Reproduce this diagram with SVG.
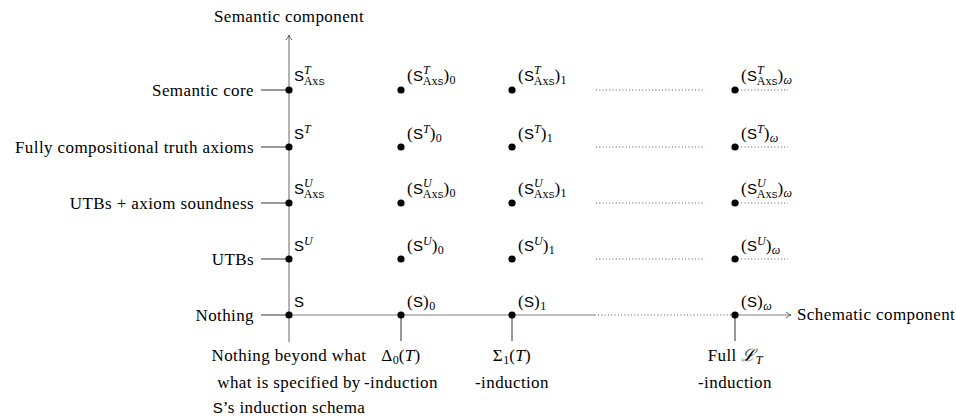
<svg xmlns="http://www.w3.org/2000/svg" width="956" height="416" viewBox="0 0 956 416">
<style>
.axis{stroke:#808080;stroke-width:1.2;fill:none}
.tick{stroke:#333;stroke-width:1;fill:none}
.dot{stroke:#555;stroke-width:1;stroke-dasharray:1 2.3;fill:none}
.lbl{font-family:"Liberation Serif",serif;font-size:17px;letter-spacing:0.4px;fill:#000}
.sf{font-family:"Liberation Sans","DejaVu Sans",sans-serif;font-size:15px;letter-spacing:0}
.it{font-style:italic}
.sm{font-size:12px;letter-spacing:0}
.ss{font-family:"Liberation Sans","DejaVu Sans",sans-serif;font-size:9px}
</style>
<defs>
<marker id="arr" markerWidth="8" markerHeight="8" refX="6" refY="4" orient="auto" markerUnits="userSpaceOnUse">
<path d="M1,1 Q4,3.5 6,4 Q4,4.5 1,7" fill="none" stroke="#555" stroke-width="0.9"/>
</marker>
</defs>
<g id="connectors">
<line class="axis" x1="289" y1="342" x2="289" y2="35" marker-end="url(#arr)"/>
<line class="axis" x1="289" y1="315" x2="596" y2="315"/>
<line class="dot" x1="598" y1="315" x2="733" y2="315"/>
<line class="axis" x1="735" y1="315" x2="791" y2="315" marker-end="url(#arr)"/>
<line class="tick" x1="261" y1="90" x2="289" y2="90"/>
<line class="tick" x1="261" y1="147" x2="289" y2="147"/>
<line class="tick" x1="261" y1="203" x2="289" y2="203"/>
<line class="tick" x1="261" y1="259" x2="289" y2="259"/>
<line class="tick" x1="261" y1="315" x2="289" y2="315"/>
<line class="tick" x1="401" y1="315" x2="401" y2="341"/>
<line class="tick" x1="512" y1="315" x2="512" y2="341"/>
<line class="tick" x1="735" y1="315" x2="735" y2="341"/>
<line class="dot" x1="596" y1="90" x2="705" y2="90"/>
<line class="dot" x1="596" y1="147" x2="705" y2="147"/>
<line class="dot" x1="596" y1="203" x2="705" y2="203"/>
<line class="dot" x1="596" y1="259" x2="705" y2="259"/>
<line class="dot" x1="738" y1="90" x2="788" y2="90"/>
<line class="dot" x1="738" y1="147" x2="788" y2="147"/>
<line class="dot" x1="738" y1="203" x2="788" y2="203"/>
<line class="dot" x1="738" y1="259" x2="788" y2="259"/>
</g>
<g id="axis-labels">
<text class="lbl" x="289" y="22" text-anchor="middle">Semantic component</text>
<text class="lbl" x="797" y="320">Schematic component</text>
<text class="lbl" x="254" y="96" text-anchor="end">Semantic core</text>
<text class="lbl" x="254" y="153" text-anchor="end">Fully compositional truth axioms</text>
<text class="lbl" x="254" y="209" text-anchor="end">UTBs + axiom soundness</text>
<text class="lbl" x="254" y="265" text-anchor="end">UTBs</text>
<text class="lbl" x="254" y="321" text-anchor="end">Nothing</text>
<text class="lbl" x="289" y="361" text-anchor="middle">Nothing beyond what</text>
<text class="lbl" x="289" y="388" text-anchor="middle">what is specified by</text>
<text class="lbl" x="289" y="413" text-anchor="middle"><tspan class="sf">S</tspan>’s induction schema</text>
<text class="lbl" x="401" y="361" text-anchor="middle">Δ<tspan class="sm" dy="3">0</tspan><tspan dy="-3">(</tspan><tspan class="it">T</tspan>)</text>
<text class="lbl" x="401" y="388" text-anchor="middle">-induction</text>
<text class="lbl" x="512" y="361" text-anchor="middle">Σ<tspan class="sm" dy="3">1</tspan><tspan dy="-3">(</tspan><tspan class="it">T</tspan>)</text>
<text class="lbl" x="512" y="388" text-anchor="middle">-induction</text>
<text class="lbl" x="735" y="361" text-anchor="middle">Full <tspan style="font-family:'DejaVu Serif',serif" class="it">ℒ</tspan><tspan class="sm it" dy="3">T</tspan></text>
<text class="lbl" x="735" y="388" text-anchor="middle">-induction</text>
</g>
<g id="row-core">
<circle cx="289" cy="90" r="3.6"/><circle cx="401" cy="90" r="3.6"/><circle cx="512" cy="90" r="3.6"/><circle cx="735" cy="90" r="3.6"/>
<text class="lbl" x="294" y="81"><tspan class="sf">S</tspan><tspan class="sm it" dy="-7">T</tspan><tspan class="sm" dx="-7" dy="11">Ax<tspan class="ss">S</tspan></tspan></text>
<text class="lbl" x="407" y="81">(<tspan class="sf">S</tspan><tspan class="sm it" dy="-7">T</tspan><tspan class="sm" dx="-7" dy="11">Ax<tspan class="ss">S</tspan></tspan><tspan dy="-4">)</tspan><tspan class="sm" dy="3">0</tspan></text>
<text class="lbl" x="518" y="81">(<tspan class="sf">S</tspan><tspan class="sm it" dy="-7">T</tspan><tspan class="sm" dx="-7" dy="11">Ax<tspan class="ss">S</tspan></tspan><tspan dy="-4">)</tspan><tspan class="sm" dy="3">1</tspan></text>
<text class="lbl" x="741" y="81">(<tspan class="sf">S</tspan><tspan class="sm it" dy="-7">T</tspan><tspan class="sm" dx="-7" dy="11">Ax<tspan class="ss">S</tspan></tspan><tspan dy="-4">)</tspan><tspan class="sm it" dy="3">ω</tspan></text>
</g>
<g id="row-compositional">
<circle cx="289" cy="147" r="3.6"/><circle cx="401" cy="147" r="3.6"/><circle cx="512" cy="147" r="3.6"/><circle cx="735" cy="147" r="3.6"/>
<text class="lbl" x="294" y="139"><tspan class="sf">S</tspan><tspan class="sm it" dy="-6">T</tspan></text>
<text class="lbl" x="407" y="139">(<tspan class="sf">S</tspan><tspan class="sm it" dy="-6">T</tspan><tspan dy="6">)</tspan><tspan class="sm" dy="3">0</tspan></text>
<text class="lbl" x="518" y="139">(<tspan class="sf">S</tspan><tspan class="sm it" dy="-6">T</tspan><tspan dy="6">)</tspan><tspan class="sm" dy="3">1</tspan></text>
<text class="lbl" x="741" y="139">(<tspan class="sf">S</tspan><tspan class="sm it" dy="-6">T</tspan><tspan dy="6">)</tspan><tspan class="sm it" dy="3">ω</tspan></text>
</g>
<g id="row-utb-sound">
<circle cx="289" cy="203" r="3.6"/><circle cx="401" cy="203" r="3.6"/><circle cx="512" cy="203" r="3.6"/><circle cx="735" cy="203" r="3.6"/>
<text class="lbl" x="294" y="194"><tspan class="sf">S</tspan><tspan class="sm it" dy="-7">U</tspan><tspan class="sm" dx="-9" dy="11">Ax<tspan class="ss">S</tspan></tspan></text>
<text class="lbl" x="407" y="194">(<tspan class="sf">S</tspan><tspan class="sm it" dy="-7">U</tspan><tspan class="sm" dx="-9" dy="11">Ax<tspan class="ss">S</tspan></tspan><tspan dy="-4">)</tspan><tspan class="sm" dy="3">0</tspan></text>
<text class="lbl" x="518" y="194">(<tspan class="sf">S</tspan><tspan class="sm it" dy="-7">U</tspan><tspan class="sm" dx="-9" dy="11">Ax<tspan class="ss">S</tspan></tspan><tspan dy="-4">)</tspan><tspan class="sm" dy="3">1</tspan></text>
<text class="lbl" x="741" y="194">(<tspan class="sf">S</tspan><tspan class="sm it" dy="-7">U</tspan><tspan class="sm" dx="-9" dy="11">Ax<tspan class="ss">S</tspan></tspan><tspan dy="-4">)</tspan><tspan class="sm it" dy="3">ω</tspan></text>
</g>
<g id="row-utb">
<circle cx="289" cy="259" r="3.6"/><circle cx="401" cy="259" r="3.6"/><circle cx="512" cy="259" r="3.6"/><circle cx="735" cy="259" r="3.6"/>
<text class="lbl" x="294" y="251"><tspan class="sf">S</tspan><tspan class="sm it" dy="-6">U</tspan></text>
<text class="lbl" x="407" y="251">(<tspan class="sf">S</tspan><tspan class="sm it" dy="-6">U</tspan><tspan dy="6">)</tspan><tspan class="sm" dy="3">0</tspan></text>
<text class="lbl" x="518" y="251">(<tspan class="sf">S</tspan><tspan class="sm it" dy="-6">U</tspan><tspan dy="6">)</tspan><tspan class="sm" dy="3">1</tspan></text>
<text class="lbl" x="741" y="251">(<tspan class="sf">S</tspan><tspan class="sm it" dy="-6">U</tspan><tspan dy="6">)</tspan><tspan class="sm it" dy="3">ω</tspan></text>
</g>
<g id="row-nothing">
<circle cx="289" cy="315" r="3.6"/><circle cx="401" cy="315" r="3.6"/><circle cx="512" cy="315" r="3.6"/><circle cx="735" cy="315" r="3.6"/>
<text class="lbl" x="294" y="307"><tspan class="sf">S</tspan></text>
<text class="lbl" x="407" y="307">(<tspan class="sf">S</tspan>)<tspan class="sm" dy="3">0</tspan></text>
<text class="lbl" x="518" y="307">(<tspan class="sf">S</tspan>)<tspan class="sm" dy="3">1</tspan></text>
<text class="lbl" x="741" y="307">(<tspan class="sf">S</tspan>)<tspan class="sm it" dy="3">ω</tspan></text>
</g>
</svg>
